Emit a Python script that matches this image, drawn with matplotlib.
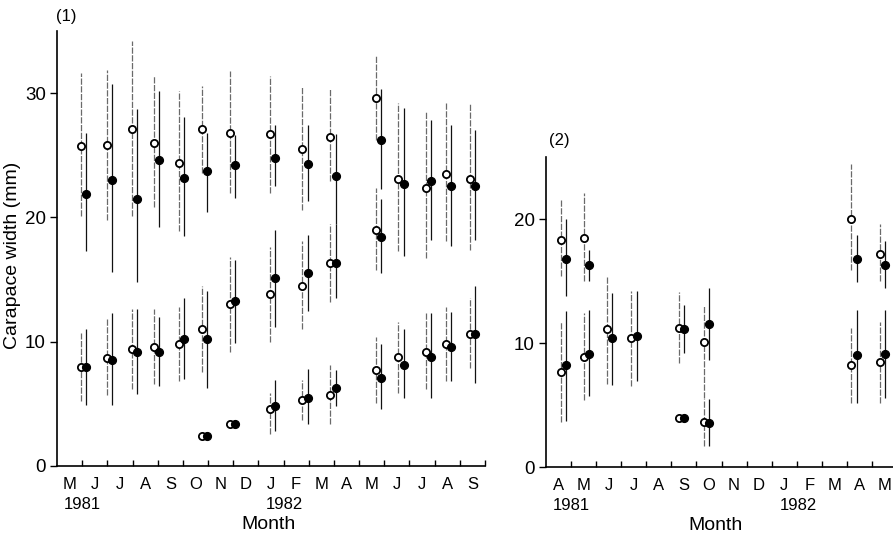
import numpy as np
import matplotlib.pyplot as plt

plt.rcParams['font.family'] = ['Liberation Sans', 'DejaVu Sans']

nan = np.nan

# ---- panel (1): sampling dates in months from 1 May 1981 ----
p1_months = ['M', 'J', 'J', 'A', 'S', 'O', 'N', 'D', 'J', 'F', 'M', 'A', 'M', 'J', 'J', 'A', 'S']
p1_dates = [0.95, 1.97, 2.96, 3.86, 4.85, 5.75, 6.87, 8.45, 9.75, 10.86,
            12.66, 13.56, 14.64, 15.44, 16.40]

# large size class
p1_up_open = [25.75, 25.8, 27.1, 26.0, 24.4, 27.1, 26.8, 26.7, 25.5, 26.5, 29.6, 23.1, 22.4, 23.5, 23.1]
p1_up_open_lo = [20.1, 19.8, 20.1, 20.8, 18.9, 23.6, 22.0, 22.0, 20.6, 22.9, 26.2, 17.3, 16.7, 18.1, 17.4]
p1_up_open_hi = [31.6, 31.9, 34.2, 31.4, 30.2, 30.6, 31.8, 31.4, 30.6, 30.3, 33.1, 29.2, 28.6, 29.2, 29.1]
p1_up_fill = [21.9, 23.0, 21.5, 24.6, 23.2, 23.7, 24.2, 24.8, 24.3, 23.3, 26.2, 22.7, 22.9, 22.5, 22.5]
p1_up_fill_lo = [17.3, 15.6, 14.8, 19.2, 18.5, 20.4, 21.6, 22.5, 21.3, 19.5, 22.3, 16.9, 18.2, 17.7, 18.2]
p1_up_fill_hi = [26.8, 30.7, 28.7, 30.2, 28.1, 26.8, 26.6, 27.4, 27.4, 26.7, 30.3, 28.8, 27.8, 27.4, 27.0]

# middle size class
p1_mid_open = [7.96, 8.7, 9.4, 9.6, 9.8, 11.0, 13.0, 13.8, 14.5, 16.3, 19.0, 8.8, 9.2, 9.8, 10.6]
p1_mid_open_lo = [5.2, 5.7, 6.2, 6.6, 6.8, 7.6, 9.2, 10.0, 11.0, 13.2, 15.8, 5.9, 6.2, 6.8, 7.9]
p1_mid_open_hi = [10.7, 11.8, 12.6, 12.6, 12.8, 14.5, 16.8, 17.6, 18.1, 19.5, 22.4, 11.6, 12.3, 12.8, 13.5]
p1_mid_fill = [7.96, 8.5, 9.2, 9.2, 10.2, 10.2, 13.25, 15.1, 15.5, 16.3, 18.4, 8.1, 8.8, 9.6, 10.6]
p1_mid_fill_lo = [4.9, 4.9, 5.8, 6.4, 7.0, 6.3, 9.9, 11.2, 12.5, 13.5, 15.5, 5.5, 5.5, 6.8, 6.7]
p1_mid_fill_hi = [11.0, 12.3, 12.6, 12.0, 13.5, 14.1, 16.6, 19.0, 18.6, 19.5, 21.5, 11.0, 12.3, 12.4, 14.5]

# small size class
p1_low_open = [nan, nan, nan, nan, nan, 2.4, 3.4, 4.6, 5.3, 5.7, 7.7, nan, nan, nan, nan]
p1_low_open_lo = [nan, nan, nan, nan, nan, nan, nan, 2.6, 3.7, 3.4, 5.1, nan, nan, nan, nan]
p1_low_open_hi = [nan, nan, nan, nan, nan, nan, nan, 5.9, 6.9, 8.1, 10.4, nan, nan, nan, nan]
p1_low_fill = [nan, nan, nan, nan, nan, 2.4, 3.4, 4.8, 5.5, 6.3, 7.1, nan, nan, nan, nan]
p1_low_fill_lo = [nan, nan, nan, nan, nan, nan, nan, 2.8, 3.4, 4.8, 4.6, nan, nan, nan, nan]
p1_low_fill_hi = [nan, nan, nan, nan, nan, nan, nan, 6.9, 7.8, 7.7, 9.8, nan, nan, nan, nan]

# ---- panel (2): sampling dates in months from 1 April 1981 ----
p2_months = ['A', 'M', 'J', 'J', 'A', 'S', 'O', 'N', 'D', 'J', 'F', 'M', 'A', 'M']
p2_dates = [0.60, 1.51, 2.42, 3.40, 5.30, 6.31, 12.18, 13.31]

p2_up_open = [18.3, 18.5, nan, nan, nan, nan, 20.0, 17.2]
p2_up_open_lo = [15.4, 15.0, nan, nan, nan, nan, 15.9, 15.0]
p2_up_open_hi = [21.6, 22.1, nan, nan, nan, nan, 24.4, 19.6]
p2_up_fill = [16.8, 16.3, nan, nan, nan, nan, 16.8, 16.3]
p2_up_fill_lo = [13.8, 15.0, nan, nan, nan, nan, 14.9, 14.4]
p2_up_fill_hi = [20.0, 17.5, nan, nan, nan, nan, 18.7, 18.2]

p2_mid_open = [7.7, 8.9, 11.1, 10.4, 11.2, 10.1, 8.2, 8.5]
p2_mid_open_lo = [3.6, 5.4, 6.7, 6.5, 8.4, 5.6, 5.2, 5.2]
p2_mid_open_hi = [11.7, 12.4, 15.4, 14.2, 14.1, 13.0, 11.2, 11.7]
p2_mid_fill = [8.2, 9.1, 10.4, 10.6, 11.1, 11.5, 9.0, 9.1]
p2_mid_fill_lo = [3.7, 5.7, 6.6, 6.9, 9.2, 8.6, 5.2, 5.6]
p2_mid_fill_hi = [12.6, 12.7, 14.0, 14.2, 13.1, 14.4, 12.7, 12.7]

p2_low_open = [nan, nan, nan, nan, 3.95, 3.6, nan, nan]
p2_low_open_lo = [nan, nan, nan, nan, nan, 1.7, nan, nan]
p2_low_open_hi = [nan, nan, nan, nan, nan, 5.5, nan, nan]
p2_low_fill = [nan, nan, nan, nan, 3.95, 3.55, nan, nan]
p2_low_fill_lo = [nan, nan, nan, nan, nan, 1.7, nan, nan]
p2_low_fill_hi = [nan, nan, nan, nan, nan, 5.5, nan, nan]

SHIFT = 0.21  # filled symbols sit just to the right of the open ones
FS = 12


def draw_group(ax, dates, o, olo, ohi, f, flo, fhi):
    x = np.asarray(dates)
    xf = x + SHIFT
    ax.vlines(x, olo, ohi, colors='#6a6a6a', linewidth=0.9,
              linestyles=(0, (5, 1.2)), zorder=2)
    ax.vlines(xf, flo, fhi, colors='#111111', linewidth=0.9, zorder=2)
    ax.plot(x, o, 'o', ms=5.2, mfc='white', mec='black', mew=1.3,
            linestyle='none', zorder=3)
    ax.plot(xf, f, 'o', ms=5.6, mfc='black', mec='black',
            linestyle='none', zorder=4)


def style_axis(ax, months, ymax, yticks):
    n = len(months)
    ax.set_xlim(0, n)
    ax.set_ylim(0, ymax)
    for s in ('top', 'right'):
        ax.spines[s].set_visible(False)
    for s in ('left', 'bottom'):
        ax.spines[s].set_linewidth(1.2)
    ax.set_xticks(np.arange(1, n + 1))
    ax.set_xticklabels([])
    ax.set_xticks(np.arange(n) + 0.5, months, minor=True)
    ax.tick_params(axis='x', which='major', direction='in', length=4, width=1)
    ax.tick_params(axis='x', which='minor', length=0, pad=8, labelsize=FS)
    ax.set_yticks(yticks)
    ax.tick_params(axis='y', direction='out', length=5, width=1,
                   pad=3, labelsize=13.5)


def year_label(ax, x, text):
    ax.annotate(text, xy=(x, 0), xycoords=('data', 'axes fraction'),
                xytext=(0, -28), textcoords='offset points',
                ha='left', va='center', fontsize=FS)


def month_title(ax, x):
    ax.annotate('Month', xy=(x, 0), xycoords=('data', 'axes fraction'),
                xytext=(0, -42), textcoords='offset points',
                ha='center', va='center', fontsize=14)


fig = plt.figure(figsize=(8.93, 5.38), dpi=100)

# panel (1)
ax1 = fig.add_axes([57 / 893, 72 / 538, 428 / 893, 435 / 538])
draw_group(ax1, p1_dates, p1_up_open, p1_up_open_lo, p1_up_open_hi,
           p1_up_fill, p1_up_fill_lo, p1_up_fill_hi)
draw_group(ax1, p1_dates, p1_mid_open, p1_mid_open_lo, p1_mid_open_hi,
           p1_mid_fill, p1_mid_fill_lo, p1_mid_fill_hi)
draw_group(ax1, p1_dates, p1_low_open, p1_low_open_lo, p1_low_open_hi,
           p1_low_fill, p1_low_fill_lo, p1_low_fill_hi)
style_axis(ax1, p1_months, 35, [0, 10, 20, 30])
year_label(ax1, 0.28, '1981')
year_label(ax1, 8.28, '1982')
month_title(ax1, 8.41)

# panel (2)
ax2 = fig.add_axes([546 / 893, 71 / 538, 351 / 893, 310 / 538])
draw_group(ax2, p2_dates, p2_up_open, p2_up_open_lo, p2_up_open_hi,
           p2_up_fill, p2_up_fill_lo, p2_up_fill_hi)
draw_group(ax2, p2_dates, p2_mid_open, p2_mid_open_lo, p2_mid_open_hi,
           p2_mid_fill, p2_mid_fill_lo, p2_mid_fill_hi)
draw_group(ax2, p2_dates, p2_low_open, p2_low_open_lo, p2_low_open_hi,
           p2_low_fill, p2_low_fill_lo, p2_low_fill_hi)
style_axis(ax2, p2_months, 25, [0, 10, 20])
year_label(ax2, 0.28, '1981')
year_label(ax2, 9.32, '1982')
month_title(ax2, 6.77)

fig.text(13 / 893, 1 - 255 / 538, 'Carapace width (mm)', rotation=90,
         ha='center', va='center', fontsize=14)
fig.text(66 / 893, 1 - 17 / 538, '(1)', ha='center', va='center', fontsize=FS)
fig.text(559 / 893, 1 - 140 / 538, '(2)', ha='center', va='center', fontsize=FS)

fig.savefig('out.png', dpi=100)
